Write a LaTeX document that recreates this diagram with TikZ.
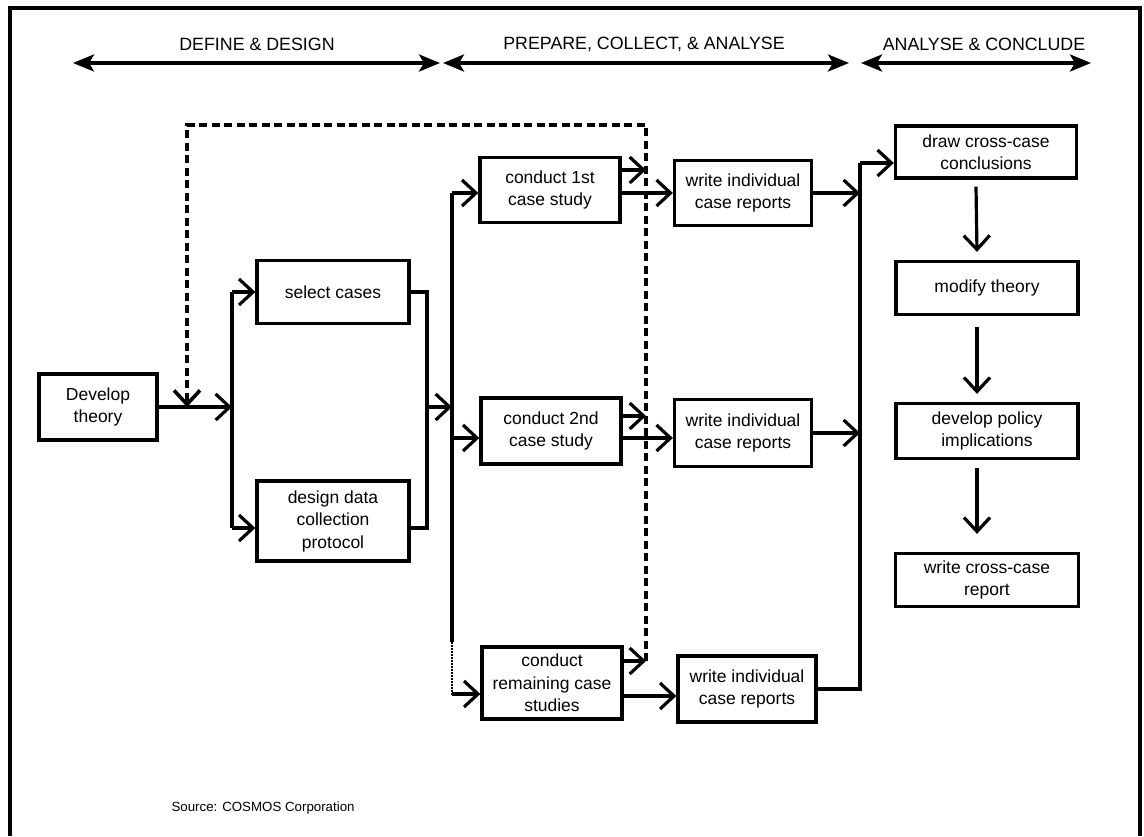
\documentclass[tikz,border=0pt]{standalone}
\usepackage{fontspec}
\setmainfont{Liberation Sans}
\usetikzlibrary{arrows.meta,calc}
\begin{document}
\begin{tikzpicture}[x=1pt,y=-1pt,
  box/.style={draw,line width=3.3pt,align=center,inner sep=0pt,
    font=\fontsize{17.5}{22.5}\selectfont},
  wire/.style={line width=3.2pt},
  arr/.style={line width=3.2pt,-{Straight Barb[length=14pt,width=26pt]}},
  feedback/.style={line width=3.6pt,dash pattern=on 8pt off 4.5pt,
    -{Straight Barb[length=14pt,width=26pt]}},
  faint/.style={line width=1.2pt,dash pattern=on 1.5pt off 1.5pt},
  phase/.style={line width=3.6pt,
    {Stealth[length=21pt,width=17pt,inset=5pt]}-{Stealth[length=21pt,width=17pt,inset=5pt]}},
  phasetext/.style={font=\fontsize{17.8}{20}\selectfont},
  frame/.style={line width=3.2pt}
]
\useasboundingbox (0,0) rectangle (1144,836);

% outer frame (open at the bottom)
\draw[frame] (10,836) -- (10,8) -- (1140,8) -- (1140,836);

% phase headings
\node[phasetext] (t1) at (257,44) {DEFINE \& DESIGN};
\node[phasetext] (t2) at (644,44) {PREPARE, COLLECT, \& ANALYSE};
\node[phasetext] (t3) at (984,44) {ANALYSE \& CONCLUDE};
\coordinate (h1l) at (73,63);  \coordinate (h1r) at (440,63);
\coordinate (h2l) at (443,63); \coordinate (h2r) at (849,63);
\coordinate (h3l) at (861,63); \coordinate (h3r) at (1091,63);
\draw[phase] (h1l) -- (h1r);
\draw[phase] (h2l) -- (h2r);
\draw[phase] (h3l) -- (h3r);

% boxes
\node[box,minimum width=118pt,minimum height=66pt] (dev) at (98,407) {Develop\\theory};
\node[box,minimum width=152pt,minimum height=63pt] (sel) at (333,292) {select cases};
\node[box,minimum width=152pt,minimum height=80pt] (des) at (333,521) {design data\\collection\\protocol};
\node[box,minimum width=140pt,minimum height=65pt] (c1) at (550,190) {conduct 1st\\case study};
\node[box,minimum width=140pt,minimum height=66pt] (c2) at (551,431) {conduct 2nd\\case study};
\node[box,minimum width=140pt,minimum height=72pt] (c3) at (552,683) {conduct\\remaining case\\studies};
\node[box,minimum width=137pt,minimum height=65pt] (w1) at (743,193) {write individual\\case reports};
\node[box,minimum width=137pt,minimum height=67pt] (w2) at (743,433) {write individual\\case reports};
\node[box,minimum width=138pt,minimum height=66pt] (w3) at (747,689) {write individual\\case reports};
\node[box,minimum width=181pt,minimum height=52pt] (dc) at (986,152) {draw cross-case\\conclusions};
\node[box,minimum width=182pt,minimum height=53pt] (mt) at (987,288) {modify theory};
\node[box,minimum width=182pt,minimum height=55pt] (dp) at (987,431) {develop policy\\implications};
\node[box,minimum width=183pt,minimum height=53pt] (wr) at (987,580) {write cross-case\\report};

\node[anchor=west,font=\fontsize{13.3}{16}\selectfont] (src) at (168,808) {Source: COSMOS Corporation};

% bus lines and junctions
\coordinate (bus1) at (232,0);
\coordinate (bus2) at (427,0);
\coordinate (bus3) at (452,0);
\coordinate (bus4) at (860,0);
\coordinate (desin) at ($(des.west)+(0,7)$);
\coordinate (desout) at ($(des.east)+(0,7)$);
\coordinate (c1up) at ($(c1.east)+(0,-20)$);
\coordinate (c2up) at ($(c2.east)+(0,-15)$);
\coordinate (c3up) at ($(c3.east)+(0,-22)$);
\coordinate (c2lo) at ($(c2.east)+(0,7)$);
\coordinate (c3lo) at ($(c3.east)+(0,13)$);
\coordinate (dcin) at ($(dc.west)+(0,11)$);
\coordinate (dotstart) at (452,642);
\coordinate (fbtl) at (187,125);
\coordinate (fbtr) at (646,125);

% define & design
\draw[arr] (dev.east) -- (bus1 |- dev.east);
\draw[wire] (bus1 |- sel.west) -- (bus1 |- desin);
\draw[arr] (bus1 |- sel.west) -- (sel.west);
\draw[arr] (bus1 |- desin) -- (desin);
\draw[wire] (sel.east) -| (bus2 |- desout) -- (desout);
\draw[arr] (bus2 |- dev.east) -- (bus3 |- dev.east);

% case studies
\draw[wire] (bus3 |- w1.west) -- (dotstart);
\draw[faint] (dotstart) -- (bus3 |- c3lo);
\draw[arr] (bus3 |- w1.west) -- (c1.west |- w1.west);
\draw[arr] (bus3 |- c2lo) -- (c2.west |- c2lo);
\draw[arr] ($(bus3 |- c3lo)+(0,-2)$) -- ($(c3.west |- c3lo)+(0,-2)$);

\draw[arr] (c1.east |- w1.west) -- (w1.west);
\draw[arr] (c2lo) -- (w2.west |- c2lo);
\draw[arr] (c3lo) -- (w3.west |- c3lo);

% feedback loop
\draw[arr] (c1up) -- (fbtr |- c1up);
\draw[arr] (c2up) -- (fbtr |- c2up);
\draw[arr] (c3up) -- (fbtr |- c3up);
\draw[feedback] (fbtr |- c3up) -- (fbtr) -- (fbtl) -- (fbtl |- dev.east);

% reports to cross-case analysis
\draw[arr] (w1.east) -- (bus4 |- w1.east);
\draw[arr] (w2.east) -- (bus4 |- w2.east);
\draw[wire] (w3.east) -- (bus4 |- w3.east) -- (bus4 |- dcin);
\draw[arr] (bus4 |- dcin) -- (dcin);

% conclusion chain
\draw[arr] ($(dc.south)+(-10,7)$) -- ($(mt.north)+(-10,-8)$);
\draw[arr] ($(mt.south)+(-10,11)$) -- ($(dp.north)+(-10,-8)$);
\draw[arr] ($(dp.south)+(-10,8)$) -- ($(wr.north)+(-10,-18)$);
\end{tikzpicture}
\end{document}
